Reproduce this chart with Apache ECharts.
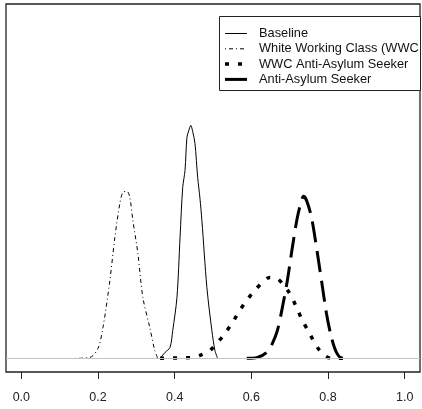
<!DOCTYPE html>
<html>
<head>
<meta charset="utf-8">
<script src="https://cdn.jsdelivr.net/npm/echarts@6/dist/echarts.min.js"></script>
<style>
html,body{margin:0;padding:0;background:#fff;}
#c{width:422px;height:409px;}
</style>
</head>
<body>
<div id="c"></div>
<script>
// x tick labels
const xTicks = [0.0, 0.2, 0.4, 0.6, 0.8, 1.0];

// Baseline (solid)
const baselineX = [0.362,0.375,0.388,0.395,0.406,0.414,0.421,0.427,0.432,0.437,0.442,0.447,0.453,0.460,0.466,0.471,0.484,0.497,0.505,0.512];
const baselineY = [0,0.44,0.81,2.05,4.48,8.88,12.55,13.79,16.21,16.73,17.09,16.65,15.77,13.28,11.74,10.12,5.21,2.05,0.59,0];

// White Working Class (dot-dash)
const wwcX = [0.140,0.179,0.200,0.213,0.231,0.244,0.257,0.265,0.276,0.283,0.291,0.304,0.317,0.335,0.348,0.356];
const wwcY = [0,0.07,0.73,2.27,5.72,8.88,11.37,12.18,12.25,11.81,10.12,7.70,4.48,2.27,0.59,0];

// WWC Anti-Asylum Seeker (dotted)
const wwcAntiX = [0.362,0.440,0.466,0.492,0.510,0.531,0.551,0.570,0.588,0.609,0.629,0.648,0.666,0.681,0.700,0.718,0.733,0.752,0.772,0.791,0.809,0.843];
const wwcAntiY = [0,0.07,0.22,0.59,1.10,1.83,2.64,3.52,4.26,4.99,5.58,5.94,5.87,5.50,4.77,3.74,2.79,1.83,0.81,0.22,0,0];

// Anti-Asylum Seeker (long dash)
const antiX = [0.588,0.616,0.640,0.655,0.668,0.681,0.694,0.707,0.720,0.731,0.736,0.744,0.757,0.770,0.783,0.796,0.809,0.822,0.837,0.856];
const antiY = [0,0.07,0.44,1.10,2.05,3.74,5.72,8.14,10.34,11.59,11.89,11.59,10.34,8.14,5.72,3.30,1.54,0.44,0,0];

const legendNames = ['Baseline','White Working Class (WWC','WWC Anti-Asylum Seeker','Anti-Asylum Seeker'];

const zip = (xs, ys) => xs.map((x, i) => [x, ys[i]]);

const styles = [
  {width:1, type:'solid', legendDash:null},
  {width:1, type:[1,3,4,3], legendDash:[1,3,4,3]},
  {width:3.5, type:[4,9], legendDash:[4,9]},
  {width:3, type:[21,9], legendDash:null}
];
const datasets = [zip(baselineX,baselineY), zip(wwcX,wwcY), zip(wwcAntiX,wwcAntiY), zip(antiX,antiY)];

const series = datasets.map((d, i) => ({
  name: legendNames[i],
  type: 'line',
  data: d,
  showSymbol: false,
  smooth: 0.3,
  animation: false,
  z: 3,
  lineStyle: {color:'#000', width: styles[i].width, type: styles[i].type, cap:'butt'}
}));
series[0].markLine = {
  silent: true,
  symbol: ['none','none'],
  label: {show:false},
  animation: false,
  lineStyle: {color:'#c4c4c4', width:1, type:'solid'},
  data: [{yAxis: 0}]
};

// legend drawn as graphic
const legX0 = 219, legY0 = 16, legW = 201, legH = 74;
const rowY = [33.5, 48.8, 64.1, 79.4];
const graphics = [{
  type:'rect', shape:{x:legX0+0.5, y:legY0+0.5, width:legW, height:legH},
  style:{fill:'#fff', stroke:'#222', lineWidth:1}, z:10
}];
legendNames.forEach((n, i) => {
  graphics.push({
    type:'line', shape:{x1:225, y1:rowY[i], x2:247, y2:rowY[i]},
    style:{stroke:'#000', lineWidth:styles[i].width, lineDash: styles[i].legendDash}, z:11
  });
  graphics.push({
    type:'text', x:259, y:rowY[i],
    style:{text:n, fill:'#111', fontSize:12.8, fontFamily:'Liberation Sans, Arial, sans-serif', verticalAlign:'middle', textAlign:'left'}, z:11
  });
});

const chart = echarts.init(document.getElementById('c'));
chart.setOption({
  animation: false,
  backgroundColor: '#fff',
  grid: {left:6, top:4, width:414, height:368, show:true, borderColor:'#222', borderWidth:1.3, backgroundColor:'transparent'},
  xAxis: {
    type:'value', min:-0.04, max:1.04,
    interval: 0.2,
    position:'bottom',
    axisLine:{show:false, onZero:false},
    splitLine:{show:false},
    axisTick:{show:true, length:7, lineStyle:{color:'#222'}, customValues: xTicks},
    axisLabel:{
      margin:19, fontSize:12.5, color:'#222', fontFamily:'Liberation Sans, Arial, sans-serif',
      customValues: xTicks,
      formatter: v => v.toFixed(1)
    }
  },
  yAxis: {type:'value', min:-1, max:26, show:false, splitLine:{show:false}},
  graphic: graphics,
  series: series
});
</script>
</body>
</html>
